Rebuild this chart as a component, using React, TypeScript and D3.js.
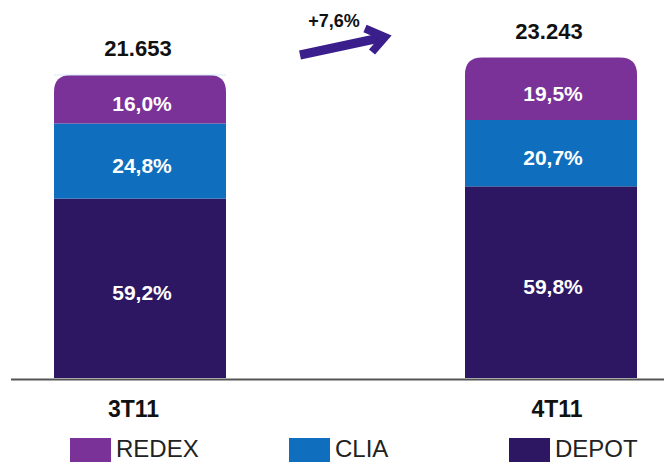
import React from "react";
import * as d3 from "d3";

const categories = ["3T11", "4T11"];
const totals = [21653, 23243];
const totalLabels = ["21.653", "23.243"];
const seriesNames = ["DEPOT", "CLIA", "REDEX"];
const depotShare = [59.2, 59.8];
const cliaShare = [24.8, 20.7];
const redexShare = [16.0, 19.5];
const growthLabel = "+7,6%";
const legendOrder = ["REDEX", "CLIA", "DEPOT"];

const colors: Record<string, string> = {
  REDEX: "#7A3298",
  CLIA: "#0F6FBE",
  DEPOT: "#2D1762",
};

const W = 664;
const H = 462;
const baseY = 378;
const font = "'Liberation Sans', Arial, Helvetica, sans-serif";
const catLabelDx = [-6.5, 6];
const legendX = [70, 289, 509];

function topRounded(x: number, y: number, w: number, h: number, r: number) {
  return `M${x},${y + h} L${x},${y + r} Q${x},${y} ${x + r},${y} L${x + w - r},${y} Q${x + w},${y} ${x + w},${y + r} L${x + w},${y + h} Z`;
}

export default function App() {
  const x = d3
    .scaleBand<string>()
    .domain(categories)
    .range([54, 637])
    .paddingInner(0.5815)
    .paddingOuter(0);
  const y = d3.scaleLinear().domain([-5900, 23243]).range([baseY, 57.5]);

  const shares: Record<string, number[]> = {
    DEPOT: depotShare,
    CLIA: cliaShare,
    REDEX: redexShare,
  };

  const bars = categories.map((c, i) => {
    const x0 = x(c)!;
    const bw = x.bandwidth();
    const top = y(totals[i]);
    const totalH = baseY - top;
    const pct = d3.scaleLinear().domain([0, 100]).range([0, totalH]);
    let acc = 0;
    const segs = seriesNames.map((s) => {
      const v = shares[s][i];
      const y1 = baseY - pct(acc);
      acc += v;
      const y0 = baseY - pct(acc);
      return { s, v, y0, y1 };
    });
    return { c, i, x0, bw, top, segs };
  });

  return (
    <svg
      width={W}
      height={H}
      style={{ position: "absolute", left: 0, top: 0, background: "#fff" }}
      fontFamily={font}
    >
      {bars.map((b) => (
        <g key={b.c}>
          {b.segs.map((sg) =>
            sg.s === "REDEX" ? (
              <path
                key={sg.s}
                d={topRounded(b.x0, sg.y0, b.bw, sg.y1 - sg.y0, 17)}
                fill={colors[sg.s]}
              />
            ) : (
              <rect
                key={sg.s}
                x={b.x0}
                y={sg.y0}
                width={b.bw}
                height={sg.y1 - sg.y0}
                fill={colors[sg.s]}
              />
            )
          )}
          {b.i === 0 && (
            <line
              x1={b.x0}
              x2={b.x0 + b.bw}
              y1={b.top}
              y2={b.top}
              stroke="#d4e8f8"
              strokeWidth={1}
            />
          )}
          {b.segs.map((sg) => (
            <text
              key={"t" + sg.s}
              x={b.x0 + b.bw / 2 + 2}
              y={(sg.y0 + sg.y1) / 2 + 12}
              textAnchor="middle"
              fill="#fff"
              fontSize={21}
              fontWeight="bold"
            >
              {sg.v.toFixed(1).replace(".", ",") + "%"}
            </text>
          ))}
          <text
            x={b.x0 + b.bw / 2 - 2}
            y={b.top - 19}
            textAnchor="middle"
            fill="#111"
            fontSize={22}
            fontWeight="bold"
          >
            {totalLabels[b.i]}
          </text>
          <text
            x={b.x0 + b.bw / 2 + catLabelDx[b.i]}
            y={417}
            textAnchor="middle"
            fill="#111"
            fontSize={23}
            fontWeight="bold"
          >
            {b.c}
          </text>
        </g>
      ))}
      <line x1={11} x2={W} y1={379.5} y2={379.5} stroke="#555" strokeWidth={2} />

      <g>
        <path
          d="M300,55 L382,37.5"
          stroke="#3A1E8C"
          strokeWidth={9}
          fill="none"
        />
        <path
          d="M365,28.5 L385,37 L372,52"
          stroke="#3A1E8C"
          strokeWidth={8}
          fill="none"
          strokeLinejoin="miter"
          strokeLinecap="butt"
        />
        <text
          x={334}
          y={27}
          textAnchor="middle"
          fill="#111"
          fontSize={18}
          fontWeight="bold"
        >
          {growthLabel}
        </text>
      </g>

      {legendOrder.map((s, i) => (
        <g key={s}>
          <rect x={legendX[i]} y={438} width={41} height={26} fill={colors[s]} />
          <text x={legendX[i] + 46} y={457} fontSize={24} fill="#222">
            {s}
          </text>
        </g>
      ))}
    </svg>
  );
}
